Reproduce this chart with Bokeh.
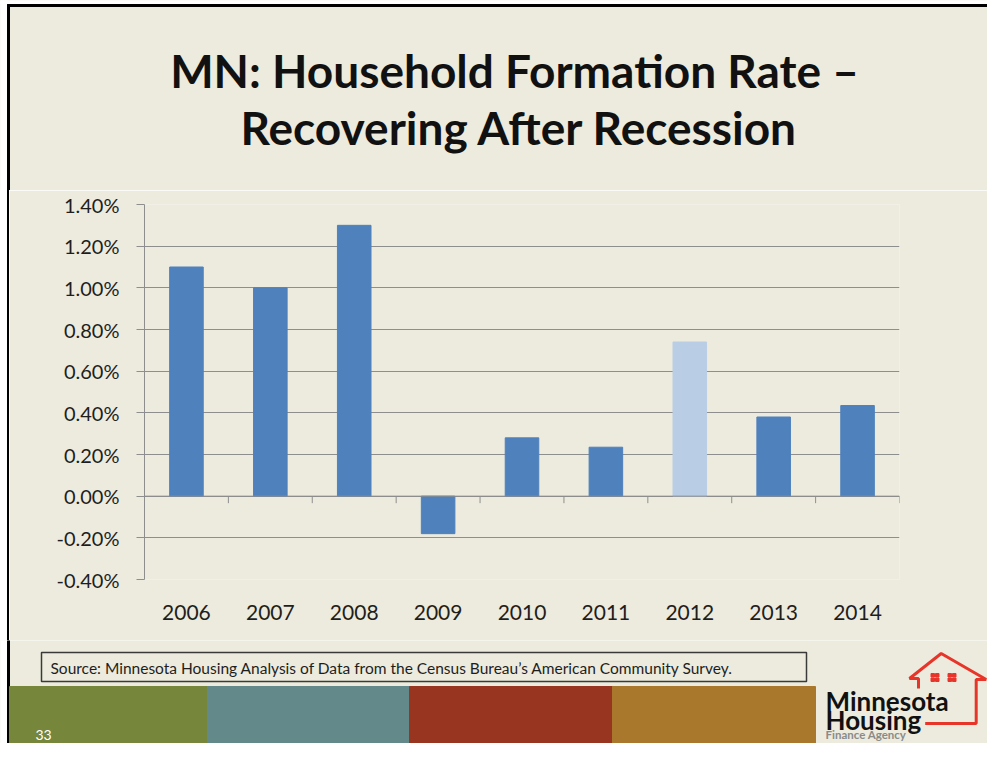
from bokeh.plotting import figure
from bokeh.layouts import column, row
from bokeh.models import Range1d, FactorRange, FixedTicker, PrintfTickFormatter, ColumnDataSource, Span, Div
from bokeh.core.properties import value
from bokeh.transform import dodge
from bokeh.embed import file_html
from bokeh.resources import INLINE

# ---------------- data ----------------
years = ["2006", "2007", "2008", "2009", "2010", "2011", "2012", "2013", "2014"]
rates = [1.10, 1.00, 1.30, -0.18, 0.28, 0.235, 0.74, 0.38, 0.435]   # percent
highlight_year = "2012"
y_ticks = [-0.4, -0.2, 0.0, 0.2, 0.4, 0.6, 0.8, 1.0, 1.2, 1.4]
title_lines = ["MN: Household Formation Rate \u2013", "Recovering After Recession"]
source_note = "Source:  Minnesota Housing Analysis of Data from the Census Bureau\u2019s American Community Survey."
slide_number = "33"
logo_lines = ["Minnesota", "Housing", "Finance Agency"]

# ---------------- style ----------------
BG = "#ECEBDD"
BAR = "#4F81BD"
BAR_HI = "#B9CDE5"
GRID = "#8E8E8E"
TXT = "#1E1E1E"
FONT = "Lato"
W = 987
TITLE_H, CHART_H, FOOT_H = 190, 450, 103
EDGE_X, EDGE_Y, BORDER = 7, 4, 2
FRAME_H = 375
Y_MIN, Y_MAX = -0.4, 1.4


def blank(width, height, xr, yr):
    f = figure(width=width, height=height, x_range=xr, y_range=yr,
               output_backend="svg", toolbar_location=None,
               x_axis_location=None, y_axis_location=None,
               min_border=0, min_border_left=0, min_border_right=0,
               min_border_top=0, min_border_bottom=0)
    f.grid.visible = False
    f.background_fill_color = BG
    f.border_fill_color = BG
    f.outline_line_color = None
    return f

# ---------------- title ----------------
t = blank(W, TITLE_H, Range1d(0, W), Range1d(TITLE_H, 0))
t.quad(left=[0, 0], right=[EDGE_X, W], top=[0, 0], bottom=[TITLE_H, EDGE_Y], color="white")
t.quad(left=[EDGE_X, EDGE_X], right=[EDGE_X + BORDER, W], top=[EDGE_Y, EDGE_Y],
       bottom=[TITLE_H, EDGE_Y + BORDER], color="black")
t.text(x=[514, 519], y=[70, 127], text=title_lines, text_font=value(FONT),
       text_font_style="bold", text_font_size="46px", text_color="#111111",
       text_align="center", text_baseline="middle")

# ---------------- chart ----------------
colors = [BAR_HI if y == highlight_year else BAR for y in years]
src = ColumnDataSource(dict(year=years, rate=rates, color=colors))

p = figure(width=W - EDGE_X - BORDER, height=CHART_H, x_range=FactorRange(*years),
           y_range=Range1d(Y_MIN, Y_MAX), output_backend="svg", toolbar_location=None,
           min_border_left=135, min_border_right=88, min_border_top=14, min_border_bottom=61)
p.background_fill_color = BG
p.border_fill_color = BG
p.outline_line_color = None

p.vbar(x="year", top="rate", bottom=0, width=0.4, color="color", source=src)

p.xgrid.visible = False
p.ygrid.ticker = FixedTicker(ticks=y_ticks)
p.ygrid.grid_line_color = GRID
p.ygrid.grid_line_width = 1

p.add_layout(Span(location=0, dimension="width", line_color=GRID, line_width=1))
tick_len = 7 * (Y_MAX - Y_MIN) / FRAME_H
p.segment(x0=dodge("year", 0.5, range=p.x_range), x1=dodge("year", 0.5, range=p.x_range),
          y0=0, y1=-tick_len, line_color=GRID, line_width=1, source=src)

p.yaxis.ticker = FixedTicker(ticks=y_ticks)
p.yaxis.formatter = PrintfTickFormatter(format="%.2f%%")
p.yaxis.axis_line_color = GRID
p.yaxis.major_tick_line_color = GRID
p.yaxis.major_tick_out = 8
p.yaxis.major_tick_in = 0
p.yaxis.minor_tick_line_color = None
p.yaxis.major_label_standoff = 17
p.yaxis.major_label_text_font = FONT
p.yaxis.major_label_text_font_size = "20px"
p.yaxis.major_label_text_color = TXT

p.xaxis.axis_line_color = None
p.xaxis.major_tick_line_color = None
p.xaxis.major_tick_out = 0
p.xaxis.major_tick_in = 0
p.xaxis.minor_tick_line_color = None
p.xaxis.major_label_standoff = 25
p.xaxis.major_label_text_font = FONT
p.xaxis.major_label_text_font_size = "21px"
p.xaxis.major_label_text_color = TXT

strip = Div(width=EDGE_X + BORDER, height=CHART_H, margin=0,
            styles={"background": "linear-gradient(to right, #ffffff 0px, #ffffff %dpx, #000000 %dpx, #000000 100%%)" % (EDGE_X, EDGE_X),
                    "padding": "0px", "margin": "0px"})

# ---------------- footer ----------------
y0 = TITLE_H + CHART_H
fo = blank(W, FOOT_H, Range1d(0, W), Range1d(y0 + FOOT_H, y0))
fo.quad(left=[0], right=[EDGE_X], top=[y0], bottom=[y0 + FOOT_H], color="white")
fo.quad(left=[EDGE_X], right=[EDGE_X + BORDER], top=[y0], bottom=[y0 + FOOT_H], color="black")
fo.quad(left=[41], right=[806], top=[652], bottom=[681], fill_color=BG,
        line_color="#3A3A3A", line_width=1.5)
fo.text(x=[50], y=[667], text=[source_note], text_font=value(FONT), text_font_size="15.5px",
        text_color=TXT, text_baseline="middle")
band_colors = ["#76863A", "#63898A", "#973520", "#A9782D"]
fo.quad(left=[EDGE_X + BORDER, 207, 409, 612], right=[207, 409, 612, 815],
        top=[686] * 4, bottom=[y0 + FOOT_H] * 4, color=band_colors)
fo.text(x=[35], y=[734], text=[slide_number], text_font=value(FONT), text_font_size="14px",
        text_color="white", text_baseline="middle")

# logo
dx, dy = -17, -12
hx = [935, 935, 926, 957.7, 1002.7, 992.7, 992.7, 941.7]
hy = [700, 690, 690, 665, 691, 691, 735, 735]
fo.line(x=[v + dx for v in hx], y=[v + dy for v in hy], line_color="#E8352A", line_width=3)
wl, wt = [], []
for gx in (947.5, 964.5):
    for ix in (0, 4.5):
        for iy in (0, 4.5):
            wl.append(gx + ix + dx)
            wt.append(685 + iy + dy)
fo.quad(left=wl, right=[v + 3.5 for v in wl], top=wt, bottom=[v + 3.5 for v in wt],
        color="#E8352A")
fo.text(x=[842 + dx, 842 + dx], y=[712 + dy, 731 + dy], text=logo_lines[:2],
        text_font=value(FONT), text_font_style="bold", text_font_size="26px",
        text_color="#111111", text_baseline="middle")
fo.text(x=[842 + dx], y=[734], text=[logo_lines[2]], text_font=value(FONT),
        text_font_style="bold", text_font_size="11.5px", text_color="#8A8A8A",
        text_baseline="middle")

layout = column(t, row(strip, p), fo)
open("out.html", "w").write(file_html(layout, INLINE))
